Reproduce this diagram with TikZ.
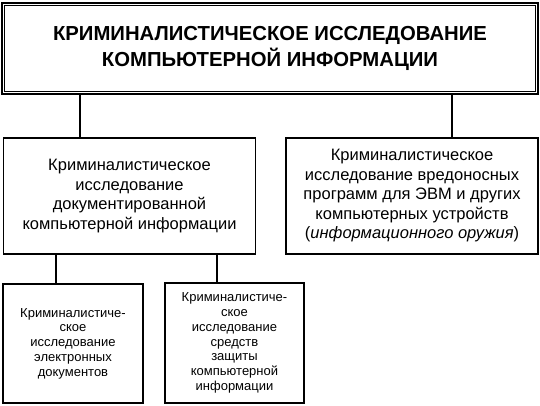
\documentclass[tikz,border=0pt]{standalone}
\usepackage{fontspec}
\setmainfont{Liberation Sans}
\usepackage{tikz}
\usetikzlibrary{positioning}

\tikzset{
  mainbox/.style={draw, line width=2.2pt, inner sep=0pt, align=center,
    minimum width=536pt, minimum height=91pt,
    font=\fontsize{20.3}{25.5}\selectfont\bfseries},
  midbox/.style={draw, line width=1.2pt, inner sep=0pt, align=center,
    minimum width=252pt, minimum height=116pt,
    font=\fontsize{16.5}{19.5}\selectfont},
  lowbox/.style={draw, line width=1.2pt, inner sep=0pt, align=center,
    minimum width=139pt, minimum height=119pt,
    font=\fontsize{13}{14.8}\selectfont},
  link/.style={line width=1.2pt},
}

\begin{document}
\begin{tikzpicture}[x=1pt, y=-1pt]
   \useasboundingbox (0,0) rectangle (540,406);
   % top
   \node[mainbox] (top) at (270,48.5)
      {КРИМИНАЛИСТИЧЕСКОЕ ИССЛЕДОВАНИЕ\\КОМПЬЮТЕРНОЙ ИНФОРМАЦИИ};
   \draw[line width=0.8pt] ([shift={(3.5,3.5)}]top.north west)
      rectangle ([shift={(-3.5,-3.5)}]top.south east);
   % second row
   \node[midbox] (docinfo) at (129.5,196)
      {Криминалистическое\\исследование\\документированной\\компьютерной информации};
   \node[midbox] (malware) at (412,196)
      {Криминалистическое\\исследование вредоносных\\программ для ЭВМ и других\\компьютерных устройств\\(\textit{информационного оружия})};
   % third row
   \node[lowbox, minimum width=140pt] (edocs) at (73,343.5)
      {Криминалистиче-\\ское\\исследование\\электронных\\документов};
   \node[lowbox, minimum height=120pt] (protect) at (234.5,343)
      {Криминалистиче-\\ское\\исследование\\средств\\защиты\\компьютерной\\информации};
   % connectors
   \coordinate (jl) at (80,0);
   \coordinate (jr) at (452,0);
   \coordinate (kl) at (56,0);
   \coordinate (kr) at (217,0);
   \draw[link] (jl |- top.south) -- (jl |- docinfo.north);
   \draw[link] (jr |- top.south) -- (jr |- malware.north);
   \draw[link] (kl |- docinfo.south) -- (kl |- edocs.north);
   \draw[link] (kr |- docinfo.south) -- (kr |- protect.north);
\end{tikzpicture}
\end{document}
